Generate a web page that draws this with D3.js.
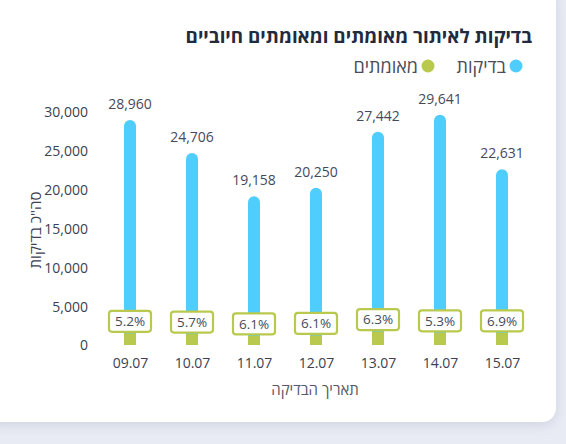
<!DOCTYPE html>
<html><head><meta charset="utf-8">
<script src="https://cdn.jsdelivr.net/npm/d3@7"></script>
<style>
html,body{margin:0;padding:0;background:#e8ebf3;}
svg{display:block;font-family:"Open Sans","Noto Sans",sans-serif;}
</style></head>
<body><svg id="c" width="566" height="444"></svg>
<script>
const categories = ["09.07","10.07","11.07","12.07","13.07","14.07","15.07"];
const tests = [28960,24706,19158,20250,27442,29641,22631];
const confirmed = [1506,1408,1169,1235,1729,1571,1562];
const pctLabels = ["5.2%","5.7%","6.1%","6.1%","6.3%","5.3%","6.9%"];
const yTicks = [0,5000,10000,15000,20000,25000,30000];
const title = "בדיקות לאיתור מאומתים ומאומתים חיוביים";
const legendNames = ["בדיקות","מאומתים"];
const yTitle = "סה\"כ בדיקות";
const xTitle = "תאריך הבדיקה";

const blue = "#4fcdfd", green = "#b9c94e";
const svg = d3.select("#c");
const defs = svg.append("defs");
const f = defs.append("filter").attr("id","sh").attr("x","-10%").attr("y","-10%").attr("width","130%").attr("height","130%");
f.append("feDropShadow").attr("dx",0).attr("dy",3).attr("stdDeviation",6).attr("flood-color","#b0b8cc").attr("flood-opacity",0.45);

svg.append("rect").attr("x",-20).attr("y",-14).attr("width",576).attr("height",436).attr("rx",14).attr("fill","#fff").attr("filter","url(#sh)");

const x = d3.scalePoint().domain(categories).range([130,502]);
const y = d3.scaleLinear().domain([0,30000]).range([345,112]);

svg.append("text").attr("x",532).attr("y",43).attr("text-anchor","end")
  .attr("font-size",18.8).attr("font-weight",700).attr("fill","#232a40").text(title);

// legend
const lg = [{c:blue,x:516,n:legendNames[0]},{c:green,x:428,n:legendNames[1]}];
lg.forEach(d=>{
  svg.append("circle").attr("cx",d.x).attr("cy",66).attr("r",6.5).attr("fill",d.c);
  svg.append("text").attr("x",d.x-10).attr("y",72.5).attr("text-anchor","end")
    .attr("font-size",18).attr("fill","#4a4d57").text(d.n);
});

// y axis
const yAxis = d3.axisLeft(y).tickValues(yTicks).tickFormat(d3.format(",")).tickSize(0).tickPadding(0);
const ga = svg.append("g").attr("transform","translate(88,0)").call(yAxis);
ga.select(".domain").remove();
ga.selectAll("text").attr("font-size",14).attr("fill","#3d4150").attr("font-family","'Open Sans','Noto Sans',sans-serif").attr("dy","0.35em");

// x axis
const xAxis = d3.axisBottom(x).tickSize(0).tickPadding(0);
const gx = svg.append("g").attr("transform","translate(0,357)").call(xAxis);
gx.select(".domain").remove();
gx.selectAll("text").attr("font-size",14).attr("fill","#3d4150").attr("font-family","'Open Sans','Noto Sans',sans-serif").attr("dy","0.75em");

svg.append("text").attr("transform","translate(41,230) rotate(-90)").attr("text-anchor","middle")
  .attr("font-size",15).attr("fill","#3d4150").text(yTitle);
svg.append("text").attr("x",315).attr("y",395).attr("text-anchor","middle")
  .attr("font-size",15).attr("fill","#555a66").text(xTitle);

const bw = 12, r = 6;
function topRounded(cx, yt, yb){
  const x0 = cx-bw/2, x1 = cx+bw/2;
  return `M${x0},${yb}V${yt+r}A${r},${r} 0 0 1 ${x1},${yt+r}V${yb}Z`;
}
categories.forEach((c,i)=>{
  const cx = x(c);
  svg.append("path").attr("d",topRounded(cx,y(tests[i]),y(0))).attr("fill",blue);
  svg.append("text").attr("x",cx).attr("y",y(tests[i])-11).attr("text-anchor","middle")
    .attr("font-size",14).attr("fill","#454a5a").text(d3.format(",")(tests[i]));
  svg.append("rect").attr("x",cx-bw/2).attr("y",y(confirmed[i])).attr("width",bw).attr("height",y(0)-y(confirmed[i])).attr("fill",green);
  const cy = y(confirmed[i]) - 12;
  svg.append("rect").attr("x",cx-21).attr("y",cy-10.5).attr("width",42).attr("height",21).attr("rx",3)
    .attr("fill","#fff").attr("stroke",green).attr("stroke-width",2.2);
  svg.append("text").attr("x",cx).attr("y",cy).attr("dy","0.36em").attr("text-anchor","middle")
    .attr("font-size",13.5).attr("fill","#454a5a").text(pctLabels[i]);
});
</script></body></html>
